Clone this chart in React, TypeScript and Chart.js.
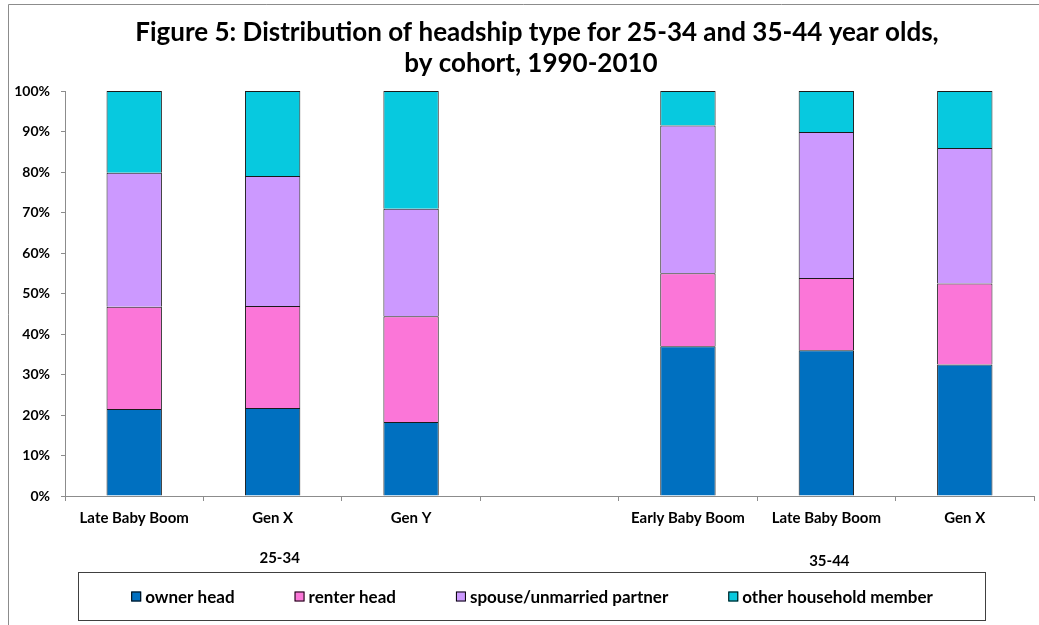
import React, { useEffect, useRef } from "react";
import { Chart, registerables } from "chart.js";

Chart.register(...registerables);

const titleLines = [
  "Figure 5: Distribution of headship type for 25-34 and 35-44 year olds,",
  "by cohort, 1990-2010",
];
const categories = ["Late Baby Boom", "Gen X", "Gen Y", "", "Early Baby Boom", "Late Baby Boom", "Gen X"];
const ageGroups = ["25-34", "35-44"];
const ageGroupCategoryIndex = [1, 5];
const seriesNames = ["owner head", "renter head", "spouse/unmarried partner", "other household member"];
const ownerHead = [21.5, 21.7, 18.3, null, 37.0, 36.0, 32.5];
const renterHead = [25.2, 25.2, 26.1, null, 18.0, 17.8, 20.0];
const spousePartner = [33.1, 32.1, 26.5, null, 36.5, 36.1, 33.4];
const otherMember = [20.2, 21.0, 29.1, null, 8.5, 10.1, 14.1];
const seriesColors = ["#0070C0", "#FB76D8", "#CC99FF", "#07C9DF"];

const FONT = "Lato, 'Open Sans', sans-serif";

const decorPlugin = {
  id: "decor",
  beforeDraw(chart: any) {
    const ctx = chart.ctx;
    ctx.save();
    ctx.fillStyle = "#ffffff";
    ctx.fillRect(0, 0, chart.width, chart.height);
    ctx.strokeStyle = "#8c8c8c";
    ctx.lineWidth = 1;
    ctx.beginPath();
    ctx.moveTo(8.5, chart.height);
    ctx.lineTo(8.5, 4.5);
    ctx.lineTo(chart.width, 4.5);
    ctx.stroke();
    ctx.restore();
  },
  afterDraw(chart: any) {
    const ctx = chart.ctx;
    ctx.save();
    ctx.fillStyle = "#000000";
    ctx.textAlign = "center";
    ctx.textBaseline = "middle";
    ctx.font = `bold 26px ${FONT}`;
    ctx.fillText(titleLines[0], 537, 33);
    ctx.fillText(titleLines[1], 531, 64);

    const xs = chart.scales.x;
    ctx.font = `bold 15px ${FONT}`;
    ageGroups.forEach((g, i) => {
      const px = xs.getPixelForValue(ageGroupCategoryIndex[i]);
      ctx.fillText(g, px + (i === 0 ? 7 : 3), i === 0 ? 558 : 561);
    });

    // legend box
    const boxL = 78.5, boxT = 572.5, boxW = 907, boxH = 48;
    ctx.strokeStyle = "#404040";
    ctx.lineWidth = 1;
    ctx.strokeRect(boxL, boxT, boxW, boxH);
    ctx.font = `bold 17px ${FONT}`;
    ctx.textAlign = "left";
    const sq = 10, sqGap = 4, itemGap = 60;
    const widths = seriesNames.map((n) => sq + sqGap + ctx.measureText(n).width);
    const total = widths.reduce((a, b) => a + b, 0) + itemGap * (seriesNames.length - 1);
    let x = boxL + boxW / 2 - total / 2;
    const cy = boxT + boxH / 2;
    seriesNames.forEach((n, i) => {
      ctx.fillStyle = seriesColors[i];
      ctx.fillRect(x, cy - 5, sq, sq);
      ctx.strokeStyle = "#000";
      ctx.strokeRect(x + 0.5, cy - 4.5, sq - 1, sq - 1);
      ctx.fillStyle = "#000";
      ctx.fillText(n, x + sq + sqGap, cy + 1);
      x += widths[i] + itemGap;
    });
    ctx.restore();
  },
};

export default function App() {
  const ref = useRef<HTMLCanvasElement | null>(null);
  useEffect(() => {
    if (!ref.current) return;
    const seriesData = [ownerHead, renterHead, spousePartner, otherMember];
    const chart = new Chart(ref.current, {
      type: "bar",
      data: {
        labels: categories,
        datasets: seriesNames.map((n, i) => ({
          label: n,
          data: seriesData[i] as any,
          backgroundColor: seriesColors[i],
          borderColor: "#1a1a1a",
          borderWidth: 1,
          barPercentage: 0.4,
          categoryPercentage: 1,
        })),
      },
      options: {
        responsive: false,
        animation: false,
        layout: { padding: { left: 8, right: 5, top: 91, bottom: 0 } },
        plugins: {
          legend: { display: false },
          title: { display: false },
          tooltip: { enabled: false },
        },
        scales: {
          x: {
            stacked: true,
            offset: true,
            grid: { drawOnChartArea: false, tickLength: 5, color: "#8c8c8c", offset: true },
            border: { color: "#8c8c8c" },
            ticks: {
              color: "#000",
              font: { family: FONT, size: 15, weight: "bold" },
              padding: 8,
              maxRotation: 0,
              autoSkip: false,
            },
            afterFit: (s: any) => {
              s.height = 129;
            },
          },
          y: {
            stacked: true,
            min: 0,
            max: 100,
            grid: { drawOnChartArea: false, tickLength: 4, color: "#8c8c8c" },
            border: { color: "#8c8c8c" },
            ticks: {
              stepSize: 10,
              color: "#000",
              font: { family: FONT, size: 14, weight: "bold" },
              padding: 11,
              callback: (v: any) => `${v}%`,
            },
            afterFit: (s: any) => {
              s.width = 57;
            },
          },
        },
      },
      plugins: [decorPlugin],
    });
    return () => chart.destroy();
  }, []);
  return (
    <div style={{ position: "fixed", left: 0, top: 0, width: 1039, height: 625 }}>
      <canvas ref={ref} width={1039} height={625} style={{ width: 1039, height: 625, display: "block" }} />
    </div>
  );
}
